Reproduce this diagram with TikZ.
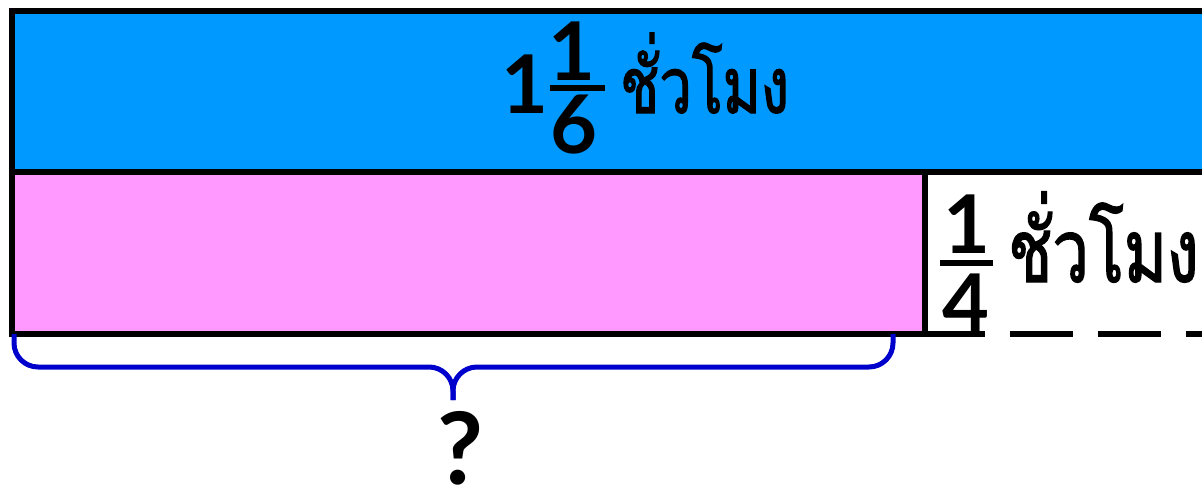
\documentclass[tikz,border=0pt]{standalone}
\usepackage{fontspec}
\setmainfont{Lato}
\newfontfamily\thaifont[Script=Thai,FakeStretch=0.74,FakeBold=1.5]{Loma}
\usetikzlibrary{calc}
\definecolor{barblue}{HTML}{0099FF}
\definecolor{barpink}{HTML}{FF99FF}
\definecolor{braceblue}{HTML}{0000CC}

\begin{document}
\begin{tikzpicture}[x=1pt,y=-1pt,
  bar/.style={draw=black,line width=6pt},
  num/.style={inner sep=0pt,anchor=base,font=\bfseries\fontsize{81}{90}\selectfont},
  unit/.style={inner sep=0pt,anchor=base west},
  fracbar/.style={line width=6.5pt}]
\useasboundingbox (0,0) rectangle (1202,491);
\clip (0,0) rectangle (1202,491);
% bars
\filldraw[bar,fill=barblue] (12,11) rectangle (1230,172);
\filldraw[bar,fill=barpink] (12,172) rectangle (925,334);
\draw[bar] (925,172) -- (925,334);
\draw[bar,dash pattern=on 63pt off 25pt] (922,334) -- (1230,334);
% top label
\node[num] (whole) at (525,113) {1};
\node[num] (topnum) at (572,80) {1};
\node[num] (topden) at (574,153) {6};
\draw[fracbar] (550,88) -- (605,88);
\node[unit,font=\thaifont\fontsize{78}{90}\selectfont] (tophours) at (620,113) {ชั่วโมง};
% right label
\node[num] (rightnum) at (967,253) {1};
\node[num] (rightden) at (966,332) {4};
\draw[fracbar] (940,263) -- (993,263);
\node[unit,font=\thaifont\fontsize{88}{100}\selectfont] (righthours) at (1008,282) {ชั่วโมง};
% brace
\foreach \e in {14,893}
  \draw[braceblue,line width=5pt,rounded corners=24pt] (\e,334) -- (\e,367) -- (453,367) -- (453,400);
\node[inner sep=0pt,anchor=base,font=\bfseries\fontsize{100}{110}\selectfont] (ask) at (460,484) {?};
\end{tikzpicture}
\end{document}
